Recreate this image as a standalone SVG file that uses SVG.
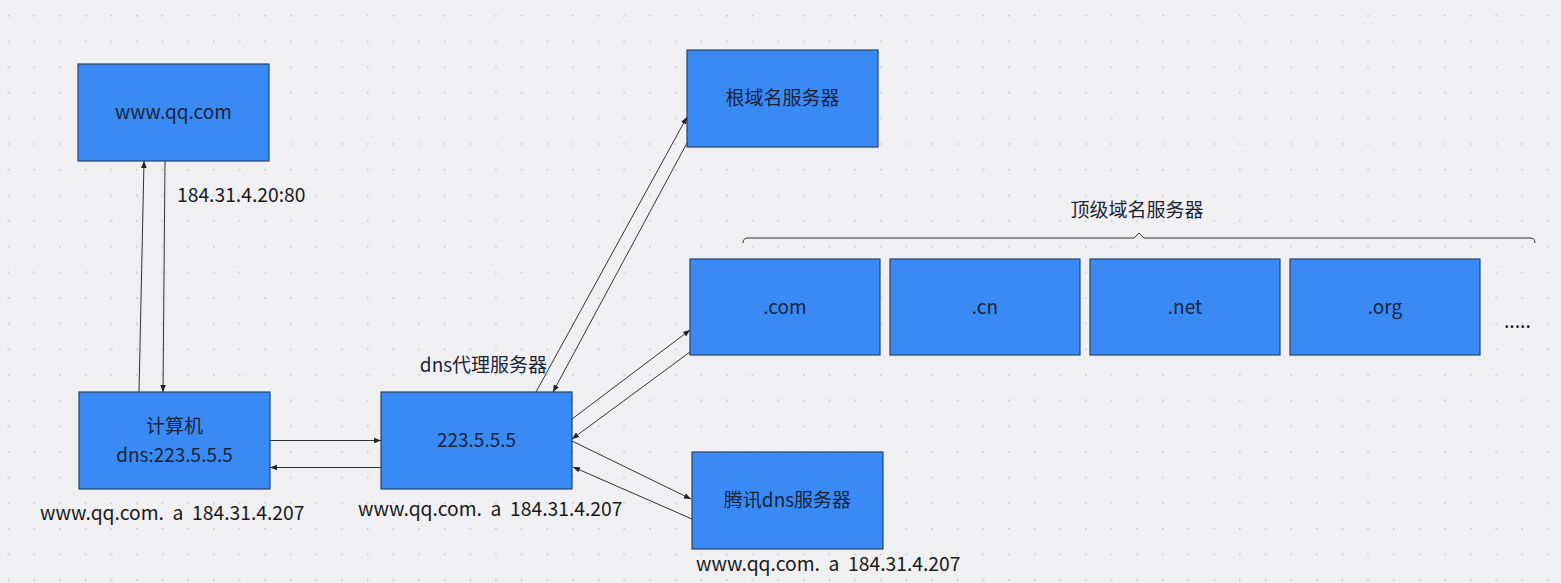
<svg xmlns="http://www.w3.org/2000/svg" width="1561" height="583" viewBox="0 0 1561 583">
<defs>
<pattern id="dots" x="7.8" y="15" width="25.65" height="25.65" patternUnits="userSpaceOnUse">
<circle cx="0.8" cy="0.8" r="0.9" fill="#c4c4c8"/>
</pattern>
<marker id="arr" viewBox="0 0 10 10" refX="10" refY="5" markerWidth="7" markerHeight="7" orient="auto" markerUnits="userSpaceOnUse">
<path d="M0,1 L10,5 L0,9 z" fill="#222"/>
</marker>
<style>
.box{fill:#3a8af5;stroke:#2b4468;stroke-width:1.2}
.t{font-family:"Noto Sans CJK SC","Noto Sans",sans-serif;font-size:19px;fill:#1a2436;text-anchor:middle}
.l{font-family:"Noto Sans CJK SC","Noto Sans",sans-serif;font-size:19.3px;fill:#1a1a1a}
.c{stroke:#333;stroke-width:1;fill:none;marker-end:url(#arr)}
</style>
</defs>
<rect width="1561" height="583" fill="#f0f0f2"/>
<rect width="1561" height="583" fill="url(#dots)"/>

<g id="node-web">
<rect class="box" x="78" y="64" width="191" height="97"/>
<text class="t" x="173.5" y="119">www.qq.com</text>
</g>
<g id="node-pc">
<rect class="box" x="79" y="392" width="191" height="97"/>
<text class="t" x="174.5" y="433">计算机</text>
<text class="t" x="174.5" y="462">dns:223.5.5.5</text>
</g>
<g id="node-proxy">
<rect class="box" x="381" y="392" width="191" height="97"/>
<text class="t" x="476.5" y="447">223.5.5.5</text>
</g>
<g id="node-root">
<rect class="box" x="687" y="50" width="191" height="97"/>
<text class="t" x="782.5" y="105">根域名服务器</text>
</g>
<g id="node-com">
<rect class="box" x="690" y="259" width="190" height="96"/>
<text class="t" x="785" y="314">.com</text>
</g>
<g id="node-cn">
<rect class="box" x="890" y="259" width="190" height="96"/>
<text class="t" x="985" y="314">.cn</text>
</g>
<g id="node-net">
<rect class="box" x="1090" y="259" width="190" height="96"/>
<text class="t" x="1185" y="314">.net</text>
</g>
<g id="node-org">
<rect class="box" x="1290" y="259" width="190" height="96"/>
<text class="t" x="1385" y="314">.org</text>
</g>
<g id="node-tencent">
<rect class="box" x="692" y="452" width="191" height="97"/>
<text class="t" x="787.5" y="507">腾讯dns服务器</text>
</g>

<g id="labels">
<text class="l" x="177" y="202">184.31.4.20:80</text>
<text class="l" x="40" y="520" xml:space="preserve">www.qq.com.  a  184.31.4.207</text>
<text class="l" x="358" y="516" xml:space="preserve">www.qq.com.  a  184.31.4.207</text>
<text class="l" x="696" y="571" xml:space="preserve">www.qq.com.  a  184.31.4.207</text>
<text class="t" x="483.5" y="372">dns代理服务器</text>
<text class="t" x="1137" y="217">顶级域名服务器</text>
<text class="l" x="1504" y="328">.....</text>
<path d="M743,243 Q743,238 748,238 L1134,238 L1139,233 L1144,238 L1530,238 Q1535,238 1535,243" fill="none" stroke="#333" stroke-width="1"/>
</g>

<g id="connectors">
<line class="c" x1="139" y1="392" x2="144" y2="161"/>
<line class="c" x1="165" y1="161" x2="163" y2="392"/>
<line class="c" x1="270" y1="440.5" x2="381" y2="440.5"/>
<line class="c" x1="381" y1="467.5" x2="270" y2="467.5"/>
<line class="c" x1="536" y1="392" x2="687" y2="117"/>
<line class="c" x1="687" y1="143" x2="553" y2="392"/>
<line class="c" x1="572" y1="419" x2="690" y2="330"/>
<line class="c" x1="690" y1="352" x2="572" y2="439"/>
<line class="c" x1="572" y1="441" x2="691" y2="499"/>
<line class="c" x1="692" y1="519" x2="573" y2="467"/>
</g>
</svg>
